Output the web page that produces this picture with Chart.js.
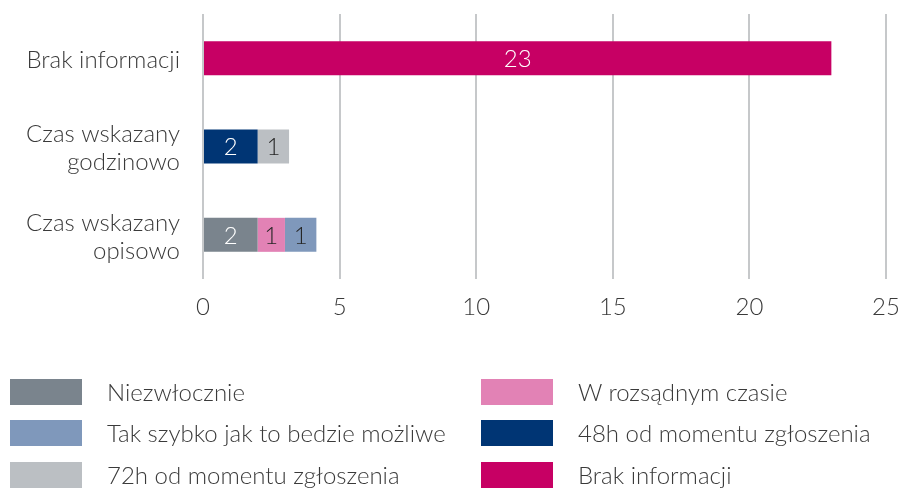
<!DOCTYPE html>
<html>
<head>
<meta charset="utf-8">
<script src="https://cdn.jsdelivr.net/npm/chart.js@4/dist/chart.umd.min.js"></script>
<style>
  body { margin: 0; background: #fff; }
  #wrap { position: relative; width: 900px; height: 488px; overflow: hidden; }
  #myChart { position: absolute; left: 0; top: 0; }
  .leg { position: absolute; height: 26px; font-family: Lato, sans-serif; font-weight: 300;
         font-size: 24px; color: #3a3a3a; white-space: nowrap; }
  .leg span.box { position: absolute; left: 0; top: 0; width: 72px; height: 26px; }
  .leg span.txt { position: absolute; left: 97px; top: 0px; line-height: 26px; }
</style>
</head>
<body>
<div id="wrap">
  <canvas id="myChart" width="900" height="488"></canvas>
  <div id="legend"></div>
</div>
<script>
var categories = ["Brak informacji", ["Czas wskazany", "godzinowo"], ["Czas wskazany", "opisowo"]];
var seriesNames = ["Niezwłocznie", "W rozsądnym czasie", "Tak szybko jak to bedzie możliwe",
                   "48h od momentu zgłoszenia", "72h od momentu zgłoszenia", "Brak informacji"];
var niezwlocznie = [null, null, 2];
var wRozsadnym = [null, null, 1];
var takSzybko = [null, null, 1.15];
var h48 = [null, 2, null];
var h72 = [null, 1.15, null];
var brakInfo = [23, null, null];
var xTicks = [0, 5, 10, 15, 20, 25];

var colors = ["#7a848d", "#e282b5", "#7f98bb", "#003574", "#bbbfc3", "#c70064"];
var labelColors = ["#ffffff", "#262626", "#262626", "#ffffff", "#262626", "#ffffff"];
var allData = [niezwlocznie, wRozsadnym, takSzybko, h48, h72, brakInfo];

var FONT = "Lato, sans-serif";
var TEXT = "#3a3a3a";

// labels inside the bars
var barLabels = {
  id: "barLabels",
  afterDatasetsDraw: function (chart) {
    var ctx = chart.ctx;
    ctx.save();
    ctx.font = "300 24px " + FONT;
    ctx.textAlign = "center";
    ctx.textBaseline = "middle";
    chart.data.datasets.forEach(function (ds, i) {
      chart.getDatasetMeta(i).data.forEach(function (bar, j) {
        if (ds.data[j] == null) return;
        ctx.fillStyle = labelColors[i];
        ctx.fillText(Math.round(ds.data[j]), (bar.x + bar.base) / 2, bar.y + 1);
      });
    });
    ctx.restore();
  }
};

var chart = new Chart("myChart", {
  type: "bar",
  data: {
    labels: categories,
    datasets: seriesNames.map(function (n, i) {
      return { label: n, data: allData[i], backgroundColor: colors[i],
               barPercentage: 0.385, categoryPercentage: 1 };
    })
  },
  options: {
    indexAxis: "y",
    responsive: false,
    animation: false,
    layout: { padding: { left: 0, right: 14, top: 14, bottom: 0 } },
    plugins: { legend: { display: false }, tooltip: { enabled: false } },
    scales: {
      x: {
        stacked: true, min: 0, max: 25,
        afterBuildTicks: function (s) { s.ticks = xTicks.map(function (v) { return { value: v }; }); },
        afterFit: function (s) { s.height = 209; s.paddingLeft = 0; s.paddingRight = 0; },
        grid: { color: "#c6c8ca", lineWidth: 2, drawTicks: false },
        border: { display: false },
        ticks: { padding: 14, color: TEXT, font: { family: FONT, size: 24, weight: 300 } }
      },
      y: {
        stacked: true,
        afterFit: function (s) { s.width = 203; s.paddingTop = 0; s.paddingBottom = 0; },
        grid: { display: false },
        border: { display: false },
        ticks: { padding: 15, labelOffset: 2, color: TEXT, font: { family: FONT, size: 24, weight: 300, lineHeight: 1.17 } }
      }
    }
  },
  plugins: [barLabels]
});

// legend in two columns, built from the datasets
var legendPos = [[10, 379], [481, 379], [10, 420], [481, 420], [10, 462], [481, 462]];
var legend = document.getElementById("legend");
chart.data.datasets.forEach(function (ds, i) {
  var d = document.createElement("div");
  d.className = "leg";
  d.style.left = legendPos[i][0] + "px";
  d.style.top = legendPos[i][1] + "px";
  d.innerHTML = '<span class="box" style="background:' + ds.backgroundColor + '"></span><span class="txt">' + ds.label + "</span>";
  legend.appendChild(d);
});
</script>
</body>
</html>
